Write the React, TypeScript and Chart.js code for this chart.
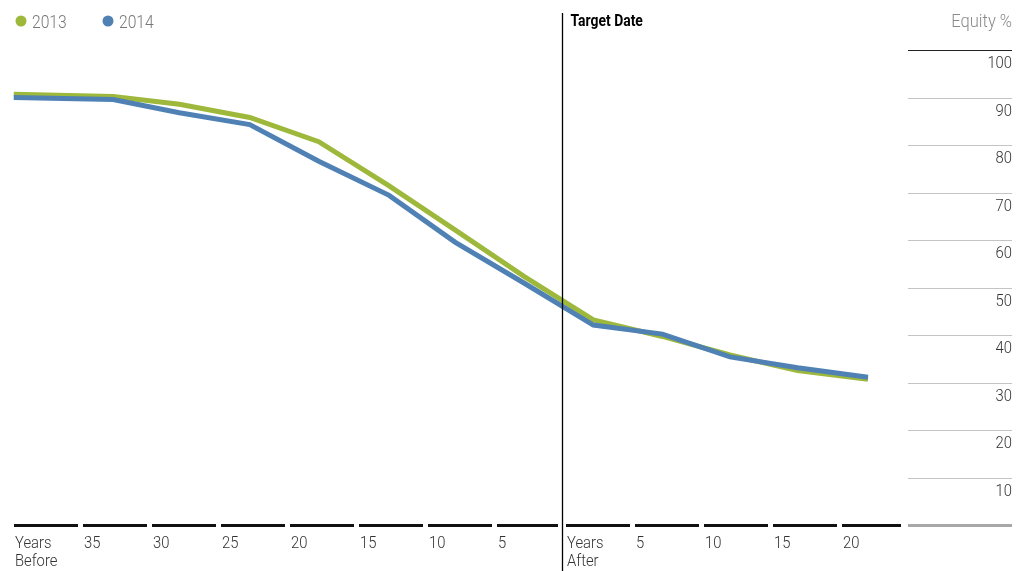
import React, { useEffect, useRef } from 'react';
import { Chart, registerables } from 'chart.js';

Chart.register(...registerables);

// ---- data ----
const seriesNames = ['2013', '2014'];
const seriesColors = ['#9EB83B', '#4F81B5'];
const pointYears = [-39.8, -32.6, -27.8, -22.7, -17.7, -12.6, -7.8, -2.8, 2.2, 7.2, 12.1, 17.0, 22.1];
const equity2013 = [90.8, 90.3, 88.7, 85.9, 80.8, 71.5, 62.2, 52.4, 43.3, 39.8, 35.9, 32.6, 30.8];
const equity2014 = [90.1, 89.7, 86.9, 84.4, 76.7, 69.5, 59.6, 51.0, 42.2, 40.3, 35.5, 33.2, 31.2];
const xTickYears = [-40, -35, -30, -25, -20, -15, -10, -5, 0, 5, 10, 15, 20];
const xTickLabels = [
  ['Years', 'Before'], ['35'], ['30'], ['25'], ['20'], ['15'], ['10'], ['5'],
  ['Years', 'After'], ['5'], ['10'], ['15'], ['20'],
];
const yTicks = [10, 20, 30, 40, 50, 60, 70, 80, 90, 100];
const yTitle = 'Equity %';
const targetLabel = 'Target Date';

const FONT = 'Roboto, "Noto Sans", sans-serif';
const SX = 0.87;

function drawText(ctx: any, text: string, x: number, y: number, align: string, font: string, color: string) {
  ctx.save();
  ctx.font = font;
  ctx.fillStyle = color;
  ctx.textAlign = align;
  ctx.textBaseline = 'alphabetic';
  ctx.translate(x, y);
  ctx.scale(SX, 1);
  ctx.fillText(text, 0, 0);
  ctx.restore();
}

const decorPlugin = {
  id: 'decor',
  afterDraw(chart: any) {
    const ctx = chart.ctx;
    const xs = chart.scales.x;
    const ys = chart.scales.y;
    const y0 = ys.getPixelForValue(0);
    ctx.save();

    // x axis segments
    ctx.strokeStyle = '#111';
    ctx.lineWidth = 3;
    xTickYears.forEach((k) => {
      const x1 = xs.getPixelForValue(k) + 3;
      let x2 = xs.getPixelForValue(k + 5) - 2;
      if (k + 5 === 0) x2 = xs.getPixelForValue(0) - 5;
      if (k === 20) x2 = xs.getPixelForValue(25) - 7;
      ctx.beginPath();
      ctx.moveTo(x1, y0);
      ctx.lineTo(x2, y0);
      ctx.stroke();
    });

    // x labels
    const labelFont = `300 17px ${FONT}`;
    xTickYears.forEach((k, i) => {
      const x = xs.getPixelForValue(k) + 4;
      xTickLabels[i].forEach((line, j) => {
        drawText(ctx, line, x, y0 + 22 + j * 18, 'left', labelFont, '#333');
      });
    });

    // y labels
    const right = ys.right;
    yTicks.forEach((v) => {
      drawText(ctx, String(v), right, ys.getPixelForValue(v) + 17.5, 'right', `300 17px ${FONT}`, '#333');
    });

    // y title
    drawText(ctx, yTitle, right, 27, 'right', `300 19px ${FONT}`, '#8a8a8a');

    // target date line
    const tx = Math.round(xs.getPixelForValue(0)) - 0.5;
    ctx.strokeStyle = '#000';
    ctx.lineWidth = 1.3;
    ctx.beginPath();
    ctx.moveTo(tx, 13);
    ctx.lineTo(tx, chart.height);
    ctx.stroke();
    drawText(ctx, targetLabel, tx + 8, 26, 'left', `bold 16px ${FONT}`, '#000');

    // legend
    const legendX = [21, 108];
    seriesNames.forEach((name, i) => {
      ctx.fillStyle = seriesColors[i];
      ctx.beginPath();
      ctx.arc(legendX[i], 21, 5.5, 0, Math.PI * 2);
      ctx.fill();
      drawText(ctx, name, legendX[i] + 11, 27.5, 'left', `300 18px ${FONT}`, '#777');
    });

    ctx.restore();
  },
};

export default function App() {
  const ref = useRef<HTMLCanvasElement>(null);

  useEffect(() => {
    document.body.style.margin = '0';
    const canvas = ref.current;
    if (!canvas) return;
    const mk = (vals: number[]) => pointYears.map((x, i) => ({ x, y: vals[i] }));
    const chart = new Chart(canvas, {
      type: 'line',
      data: {
        datasets: [
          {
            label: seriesNames[0],
            data: mk(equity2013),
            borderColor: seriesColors[0],
            backgroundColor: seriesColors[0],
            borderWidth: 5,
            pointRadius: 0,
            tension: 0,
            order: 1,
          },
          {
            label: seriesNames[1],
            data: mk(equity2014),
            borderColor: seriesColors[1],
            backgroundColor: seriesColors[1],
            borderWidth: 5,
            pointRadius: 0,
            tension: 0,
            order: 0,
          },
        ],
      },
      options: {
        responsive: false,
        devicePixelRatio: 1,
        animation: false,
        layout: { padding: { left: 11, right: 17, top: 50.5, bottom: 45.5 } },
        plugins: { legend: { display: false }, tooltip: { enabled: false } },
        scales: {
          x: { type: 'linear', min: -40, max: 25, display: false },
          y: {
            position: 'right',
            min: 0,
            max: 100,
            afterFit: (s: any) => { s.width = 104; },
            border: { display: false },
            ticks: { stepSize: 10, display: false },
            grid: {
              drawOnChartArea: false,
              drawTicks: true,
              tickLength: 104,
              color: (c: any) => (c.tick && c.tick.value === 100 ? '#222' : c.tick && c.tick.value === 0 ? '#a8a8a8' : '#c4c4c4'),
              lineWidth: (c: any) => (c.tick && c.tick.value === 0 ? 3 : 1),
            },
          },
        },
      },
      plugins: [decorPlugin],
    } as any);
    return () => chart.destroy();
  }, []);

  return (
    <div style={{ width: 1029, height: 571 }}>
      <canvas ref={ref} width={1029} height={571} />
    </div>
  );
}
